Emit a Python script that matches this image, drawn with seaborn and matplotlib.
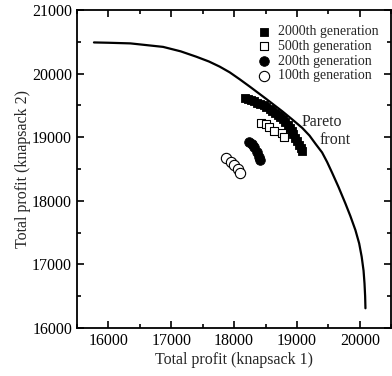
import numpy as np
import pandas as pd
import matplotlib
matplotlib.use("Agg")
import matplotlib.pyplot as plt
import seaborn as sns
from matplotlib.ticker import MultipleLocator

# Pareto front curve
front_x = [15770, 16000, 16350, 16870, 17150, 17400, 17600, 17770, 17930, 18090, 18250, 18500,
           18770, 18930, 19085, 19200, 19300, 19400, 19480, 19560, 19660, 19770, 19850, 19930,
           19990, 20030, 20060, 20075, 20085, 20090]
front_y = [20490, 20485, 20475, 20420, 20350, 20265, 20190, 20110, 20020, 19910, 19795, 19610,
           19405, 19275, 19145, 19025, 18890, 18760, 18610, 18440, 18220, 17960, 17760, 17540,
           17330, 17120, 16900, 16700, 16500, 16310]

# 2000th generation
g2000_x = [18170, 18220, 18270, 18320, 18370, 18420, 18470, 18515, 18565, 18610, 18655, 18695,
           18735, 18775, 18815, 18850, 18885, 18915, 18945, 18975, 19005, 19035, 19065, 19085]
g2000_y = [19610, 19600, 19580, 19565, 19545, 19525, 19500, 19475, 19445, 19415, 19385, 19350,
           19315, 19280, 19240, 19195, 19150, 19100, 19050, 18990, 18940, 18885, 18830, 18790]
# 500th generation
g500_x = [18430, 18510, 18560, 18640, 18770, 18800]
g500_y = [19230, 19210, 19165, 19100, 19060, 19010]
# 200th generation
g200_x = [18240, 18280, 18320, 18370, 18400, 18410]
g200_y = [18930, 18890, 18850, 18770, 18690, 18645]
# 100th generation
g100_x = [17875, 17955, 18005, 18060, 18100]
g100_y = [18670, 18615, 18565, 18495, 18440]

sns.set_style("ticks")
plt.rcParams['font.family'] = ['Liberation Serif', 'DejaVu Serif']

fig = plt.figure(figsize=(3.92, 3.76), dpi=100)
ax = fig.add_axes([0.1964, 0.1277, 0.8016, 0.8457])

front = pd.DataFrame({"x": front_x, "y": front_y})
sns.lineplot(data=front, x="x", y="y", sort=False, color="black", lw=1.6, ax=ax)

d2000 = pd.DataFrame({"x": g2000_x, "y": g2000_y})
d500 = pd.DataFrame({"x": g500_x, "y": g500_y})
d200 = pd.DataFrame({"x": g200_x, "y": g200_y})
d100 = pd.DataFrame({"x": g100_x, "y": g100_y})

sns.scatterplot(data=d2000, x="x", y="y", marker="s", s=38, color="black", edgecolor="black",
                linewidth=0.6, label="2000th generation", ax=ax, zorder=3)
sns.scatterplot(data=d500, x="x", y="y", marker="s", s=28, facecolor="white", edgecolor="black",
                linewidth=0.8, label="500th generation", ax=ax, zorder=3)
sns.scatterplot(data=d200, x="x", y="y", marker="o", s=48, color="black", edgecolor="black",
                linewidth=0.6, label="200th generation", ax=ax, zorder=3)
sns.scatterplot(data=d100, x="x", y="y", marker="o", s=55, facecolor="white", edgecolor="black",
                linewidth=0.8, label="100th generation", ax=ax, zorder=3)

ax.set_xlim(15500, 20500)
ax.set_ylim(16000, 21000)
ax.xaxis.set_major_locator(MultipleLocator(1000))
ax.xaxis.set_minor_locator(MultipleLocator(500))
ax.yaxis.set_major_locator(MultipleLocator(1000))
ax.yaxis.set_minor_locator(MultipleLocator(500))
ax.tick_params(which="both", direction="in", top=True, right=True, labelsize=11.5, width=1.2, colors="black")
ax.tick_params(which="major", length=5)
ax.tick_params(which="minor", length=3)
for sp in ax.spines.values():
    sp.set_linewidth(1.3)
    sp.set_color("black")

ax.set_xlabel("Total profit (knapsack 1)", fontsize=11.5, labelpad=2)
ax.set_ylabel("Total profit (knapsack 2)", fontsize=11.5, labelpad=0.5)

ax.text(19080, 19244, "Pareto", fontsize=11.5, ha="left", va="center")
ax.text(19360, 18956, "front", fontsize=11.5, ha="left", va="center")

leg = ax.legend(loc="upper left", bbox_to_anchor=(0.577, 0.952), frameon=False, fontsize=10,
                handlelength=0.8, handletextpad=0.6, labelspacing=0.12, borderpad=0, borderaxespad=0)

fig.savefig("out.png", dpi=100)
